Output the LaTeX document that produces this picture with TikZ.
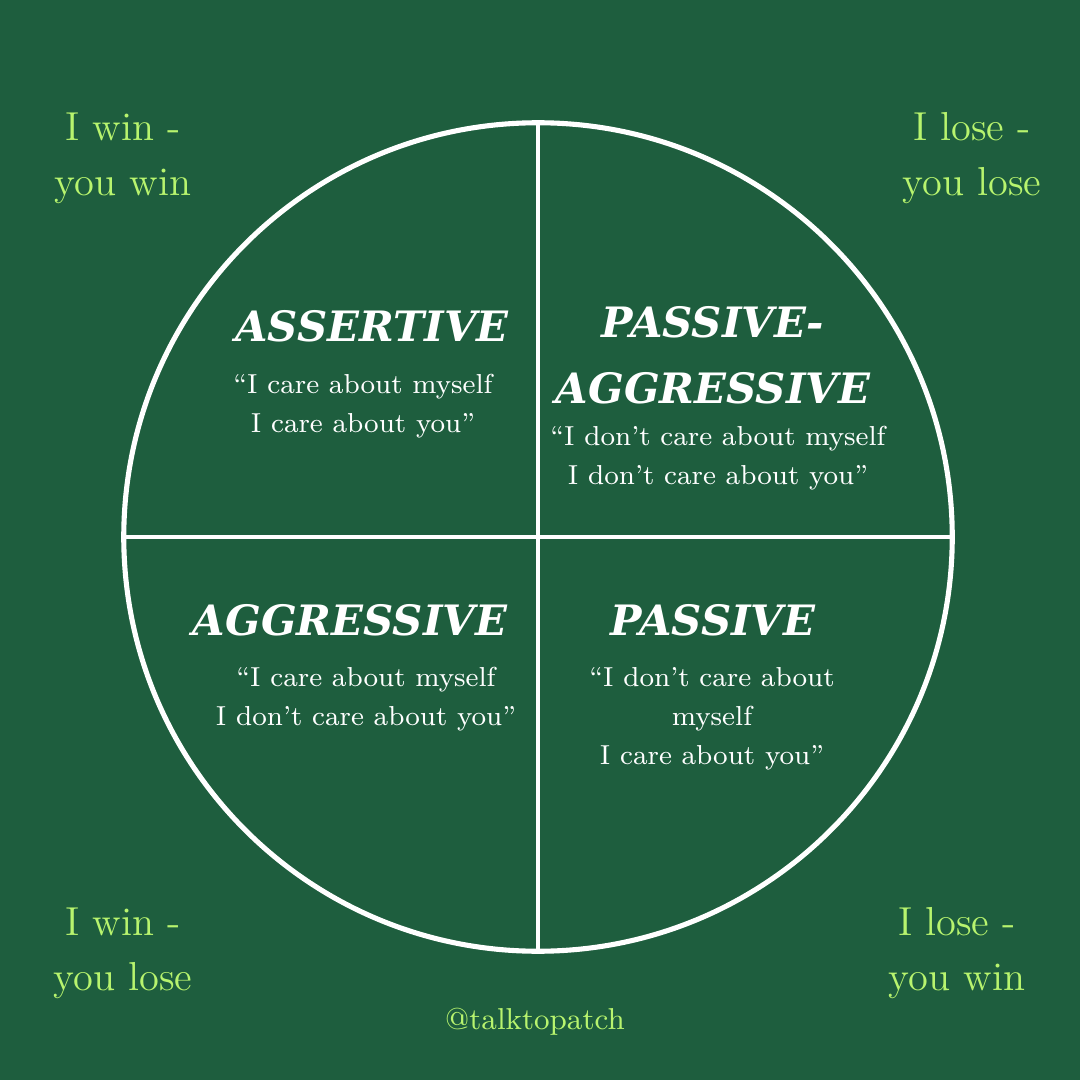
\documentclass[tikz,border=0pt]{standalone}
\usepackage{fontspec}
\usetikzlibrary{positioning}
\newfontfamily\titlefont{DejaVu Serif}
\definecolor{bggreen}{RGB}{30, 94, 62}
\definecolor{limegreen}{RGB}{184, 244, 110}

\begin{document}
\begin{tikzpicture}[
      x=0.01cm, y=-0.01cm,
      corner/.style={text=limegreen, align=center, inner sep=0pt,
                     font=\fontsize{11.5}{15.6}\selectfont},
      title/.style={text=white, align=center, inner sep=0pt,
                    font=\titlefont\bfseries\itshape\fontsize{11.9}{18.8}\selectfont},
      quote/.style={text=white, align=center, inner sep=0pt,
                    font=\fontsize{7.8}{11.1}\selectfont}
    ]
    \fill[bggreen] (0,0) rectangle (1080,1080);
    \useasboundingbox (0,0) rectangle (1080,1080);
    % circle split into four quadrants
    \node[circle, draw=white, line width=1.45pt, minimum size=8.28cm,
          inner sep=0pt, outer sep=0pt] (wheel) at (538,537) {};
    \draw[white, line width=1.15pt] (wheel.north) -- (wheel.south);
    \draw[white, line width=1.15pt] (wheel.west) -- (wheel.east);
    % corner labels
    \node[corner] (tl) at (123,158) {I win -\\you win};
    \node[corner] (tr) at (972,158) {I lose -\\you lose};
    \node[corner] (bl) at (123,953) {I win -\\you lose};
    \node[corner] (br) at (957,953) {I lose -\\you win};
    \node[corner, font=\fontsize{8.6}{11}\selectfont] (handle) at (535,1022) {@talktopatch};
    % quadrant titles
    \node[title] (assertive) at (372,326) {ASSERTIVE};
    \node[title] (passagg) at (713,355) {PASSIVE-\\AGGRESSIVE};
    \node[title] (aggressive) at (350,620) {AGGRESSIVE};
    \node[title] (passive) at (713,620) {PASSIVE};
    % quotes
    \node[quote] (q1) at (363,406) {``I care about myself\\I care about you''};
    \node[quote] (q2) at (718,458) {``I don't care about myself\\I don't care about you''};
    \node[quote] (q3) at (366,699) {``I care about myself\\I don't care about you''};
    \node[quote] (q4) at (712,719) {``I don't care about\\myself\\I care about you''};
\end{tikzpicture}
\end{document}
